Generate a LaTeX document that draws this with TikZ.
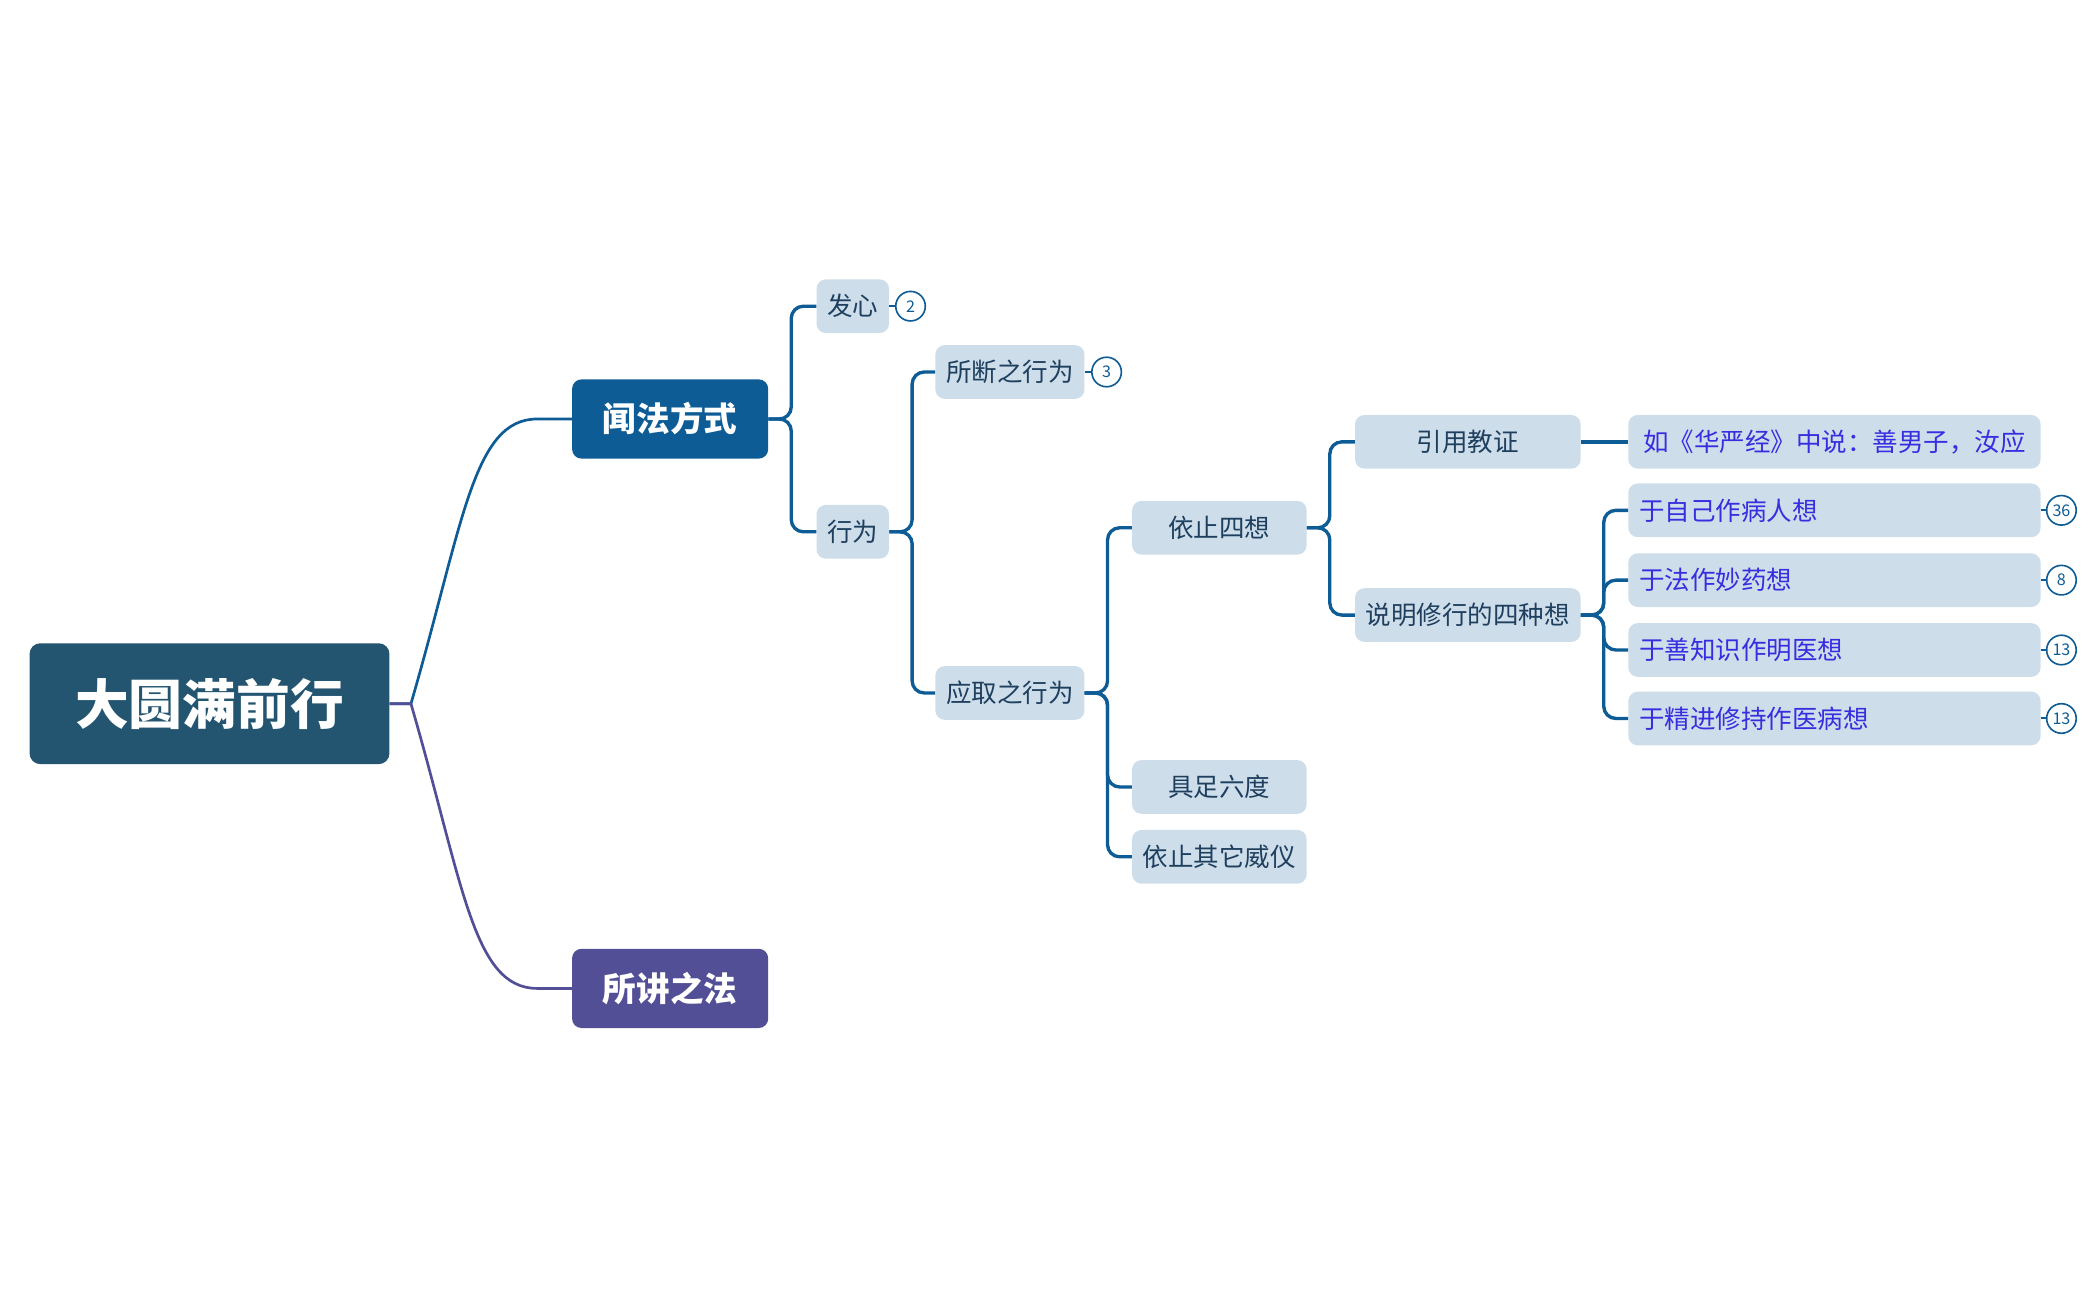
\documentclass[tikz,border=0pt]{standalone}
\usepackage{fontspec}
\setmainfont{Noto Sans CJK SC}
\begin{document}
\begin{tikzpicture}[x=1pt,y=-1pt,
  lt/.style={fill=lb,rounded corners=7pt,minimum height=40pt,inner sep=0pt,font=\fontsize{19}{19}\selectfont,text=tx},
  leaf/.style={lt,text=bt,minimum width=307pt,text width=291pt,align=left},
  big/.style={rounded corners=7pt,minimum width=146pt,minimum height=59pt,text=white,font=\fontsize{25}{25}\selectfont\bfseries},
  con/.style={draw=cb,line width=2.5pt,rounded corners=9pt},
  badge/.style={circle,draw=cb,line width=1.2pt,fill=white,minimum size=22pt,inner sep=0pt,font=\fontsize{12}{12}\selectfont,text=cb}]
\definecolor{lb}{HTML}{CEDDEA}
\definecolor{tx}{HTML}{1E3F5E}
\definecolor{bt}{HTML}{3A2CE0}
\definecolor{cb}{HTML}{0E5C96}
\definecolor{rt}{HTML}{245570}
\definecolor{pu}{HTML}{534F96}
\useasboundingbox (0,0) rectangle (1560,968);
\node[fill=rt,rounded corners=8pt,minimum width=268pt,minimum height=90pt,text=white,font=\fontsize{40}{40}\selectfont\bfseries] (root) at (156,524) {大圆满前行};
\node[big,fill=cb] (wf) at (499,312) {闻法方式};
\node[big,fill=pu] (sj) at (499,736) {所讲之法};
\node[lt,minimum width=54pt] (fx) at (635,228) {发心};
\node[lt,minimum width=54pt] (xw) at (635,396) {行为};
\node[lt,minimum width=111pt] (sd) at (752,277) {所断之行为};
\node[lt,minimum width=111pt] (yq) at (752,516) {应取之行为};
\node[lt,minimum width=130pt] (yz) at (908,393) {依止四想};
\node[lt,minimum width=130pt] (jz) at (908,586) {具足六度};
\node[lt,minimum width=130pt] (qt) at (908,638) {依止其它威仪};
\node[lt,minimum width=168pt] (yy) at (1093,329) {引用教证};
\node[lt,minimum width=168pt] (sm) at (1093,458) {说明修行的四种想};
\node[leaf,text width=285pt] (hy) at (1366,329) {\hfill 如《华严经》中说：善男子，汝应};
\node[leaf] (l1) at (1366,380) {于自己作病人想};
\node[leaf] (l2) at (1366,432) {于法作妙药想};
\node[leaf] (l3) at (1366,484) {于善知识作明医想};
\node[leaf] (l4) at (1366,535) {于精进修持作医病想};
\node[badge] (b2) at (678,228) {2};
\node[badge] (b3) at (824,277) {3};
\node[badge] (b36) at (1535,380) {36};
\node[badge] (b8) at (1535,432) {8};
\node[badge] (b13a) at (1535,484) {13};
\node[badge] (b13b) at (1535,535) {13};
% root connectors
\draw[draw=cb,line width=2pt] (root.east) -- (306,524) .. controls (345,390) and (352,312) .. (400,312) -- (wf.west);
\draw[draw=pu,line width=2pt] (root.east) -- (306,524) .. controls (345,658) and (352,736) .. (400,736) -- (sj.west);
% tree
\foreach \p/\c in {wf/fx,wf/xw}{\draw[con] (\p.east) -- ++(17,0) |- (\c.west);}
\foreach \p/\c in {xw/sd,xw/yq}{\draw[con] (\p.east) -- ++(17,0) |- (\c.west);}
\foreach \p/\c in {yq/yz,yq/jz,yq/qt}{\draw[con] (\p.east) -- ++(17,0) |- (\c.west);}
\foreach \p/\c in {yz/yy,yz/sm}{\draw[con] (\p.east) -- ++(17,0) |- (\c.west);}
\foreach \p/\c in {sm/l1,sm/l2,sm/l3,sm/l4}{\draw[con] (\p.east) -- ++(17,0) |- (\c.west);}
\draw[con] (yy.east) -- (hy.west);
\foreach \n/\b in {fx/b2,sd/b3,l1/b36,l2/b8,l3/b13a,l4/b13b}{\draw[draw=cb,line width=1.5pt] (\n.east) -- (\b.west);}
\end{tikzpicture}
\end{document}
